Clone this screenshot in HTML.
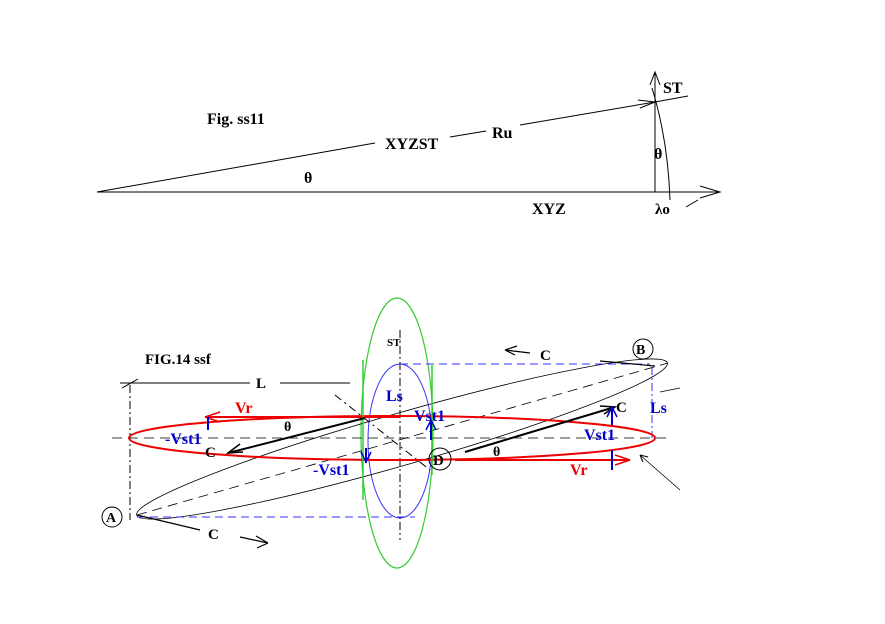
<!DOCTYPE html>
<html><head><meta charset="utf-8"><style>
html,body{margin:0;padding:0;background:#fff;}
svg{display:block;}
text{font-family:"Liberation Serif",serif;font-weight:bold;}
</style></head><body>
<svg width="885" height="624" viewBox="0 0 885 624" xmlns="http://www.w3.org/2000/svg">
<!-- Top figure -->
<g stroke="#000" stroke-width="1" fill="none">
<line x1="97" y1="192" x2="720" y2="192"/>
<path d="M700,186 L720,192 L700,198"/>
<line x1="97" y1="192" x2="375" y2="143"/>
<line x1="450" y1="137" x2="486" y2="131"/>
<line x1="520" y1="125" x2="655" y2="102"/>
<path d="M638,100 L655,102 L640,108"/>
<line x1="655" y1="102" x2="688" y2="96"/>
<line x1="655" y1="192" x2="655" y2="72"/>
<path d="M650,85 L655,72 L660,85"/>
<path d="M652,88 Q668,140 670,200"/>
<line x1="686" y1="207" x2="698" y2="200"/>
</g>
<text x="207" y="124" font-size="16">Fig.  ss11</text>
<text x="385" y="149" font-size="16">XYZST</text>
<text x="492" y="138" font-size="16" font-weight="normal">Ru</text>
<text x="304" y="183" font-size="16">θ</text>
<text x="532" y="214" font-size="16">XYZ</text>
<text x="663" y="93" font-size="16">ST</text>
<text x="654" y="159" font-size="16">θ</text>
<text x="655" y="214" font-size="15">λo</text>

<!-- Bottom figure -->
<g fill="none" stroke-width="1">
<ellipse cx="397" cy="433" rx="36" ry="135" stroke="#3c3" stroke-width="1.2"/>
<ellipse cx="400" cy="441" rx="32" ry="77" stroke="#33f"/>
<ellipse cx="402" cy="439" rx="276" ry="26" transform="rotate(-16 402 439)" stroke="#000" stroke-width="0.8"/>
<line x1="137" y1="515" x2="668" y2="363" stroke="#000" stroke-dasharray="10,6" stroke-width="0.8"/>
<line x1="112" y1="438" x2="672" y2="438" stroke="#000" stroke-dasharray="10,6" stroke-width="0.8"/>
<line x1="400" y1="330" x2="400" y2="540" stroke="#000" stroke-dasharray="8,3,2,3"/>
<line x1="130" y1="385" x2="130" y2="520" stroke="#000" stroke-dasharray="8,3,2,3"/>
<line x1="652" y1="367" x2="652" y2="438" stroke="#33f" stroke-dasharray="8,3,2,3"/>
<line x1="400" y1="364" x2="650" y2="364" stroke="#33f" stroke-dasharray="8,5"/>
<line x1="137" y1="517" x2="415" y2="517" stroke="#33f" stroke-dasharray="8,5"/>
<line x1="335" y1="395" x2="430" y2="470" stroke="#000" stroke-dasharray="8,4,2,4"/>
<line x1="120" y1="383" x2="250" y2="383" stroke="#000"/>
<line x1="280" y1="383" x2="350" y2="383" stroke="#000"/>
<line x1="122" y1="388" x2="138" y2="379" stroke="#000"/>
<ellipse cx="392" cy="438" rx="263" ry="22" stroke="#e00" stroke-width="2"/>
<line x1="205" y1="417" x2="400" y2="417" stroke="#e00" stroke-width="2"/>
<line x1="205" y1="417" x2="220" y2="412" stroke="#e00" stroke-width="1.5"/>
<line x1="205" y1="417" x2="220" y2="422" stroke="#e00" stroke-width="1.5"/>
<line x1="455" y1="460" x2="630" y2="460" stroke="#e00" stroke-width="2"/>
<line x1="630" y1="460" x2="615" y2="455" stroke="#e00" stroke-width="1.5"/>
<line x1="630" y1="460" x2="615" y2="465" stroke="#e00" stroke-width="1.5"/>
<line x1="363" y1="360" x2="363" y2="500" stroke="#3c3" stroke-width="1.5"/>
<line x1="432" y1="365" x2="432" y2="475" stroke="#3c3" stroke-width="1.5"/>
<line x1="365" y1="418" x2="228" y2="453" stroke="#000" stroke-width="2"/>
<path d="M240,444 L228,453 L243,452" stroke="#000" stroke-width="1.5"/>
<line x1="465" y1="452" x2="615" y2="407" stroke="#000" stroke-width="2"/>
<path d="M600,406 L615,407 L604,414" stroke="#000" stroke-width="1.5"/>
<line x1="208" y1="417" x2="208" y2="430" stroke="#00c" stroke-width="2"/>
<line x1="366" y1="448" x2="366" y2="463" stroke="#00c" stroke-width="2"/>
<path d="M361,452 L366,462 L371,452" stroke="#00c" stroke-width="1.5"/>
<line x1="431" y1="440" x2="431" y2="420" stroke="#00c" stroke-width="2"/>
<path d="M426,430 L431,420 L436,430" stroke="#00c" stroke-width="1.5"/>
<line x1="612" y1="425" x2="612" y2="407" stroke="#00c" stroke-width="2"/>
<path d="M607,417 L612,407 L617,417" stroke="#00c" stroke-width="1.5"/>
<line x1="612" y1="450" x2="612" y2="470" stroke="#00c" stroke-width="2"/>
<line x1="600" y1="361" x2="655" y2="366" stroke="#000" stroke-width="1.2"/>
<path d="M505,350 L530,353 M505,350 L517,346 M505,350 L515,355" stroke="#000" stroke-width="1.2"/>
<line x1="137" y1="515" x2="200" y2="530" stroke="#000" stroke-width="1.2"/>
<path d="M240,537 L268,543 M268,543 L256,536 M268,543 L257,548" stroke="#000" stroke-width="1.2"/>
<line x1="640" y1="455" x2="680" y2="490" stroke="#000" stroke-width="0.8"/>
<path d="M640,455 L648,457 M640,455 L643,462" stroke="#000"/>
<line x1="660" y1="392" x2="680" y2="388" stroke="#000" stroke-width="0.8"/>
<circle cx="643" cy="349" r="10" stroke="#000"/>
<circle cx="112" cy="517" r="10" stroke="#000"/>
<circle cx="440" cy="459" r="11" stroke="#000"/>
</g>
<text x="145" y="364" font-size="15">FIG.14 ssf</text>
<text x="387" y="346" font-size="11">ST</text>
<text x="256" y="388" font-size="15">L</text>
<text x="235" y="413" font-size="16" fill="#e00">Vr</text>
<text x="570" y="475" font-size="16" fill="#e00">Vr</text>
<text x="386" y="401" font-size="16" fill="#00c">Ls</text>
<text x="650" y="413" font-size="16" fill="#00c">Ls</text>
<text x="414" y="421" font-size="16" fill="#00c">Vst1</text>
<text x="584" y="440" font-size="16" fill="#00c">Vst1</text>
<text x="165" y="444" font-size="16" fill="#00c">-Vst1</text>
<text x="313" y="475" font-size="16" fill="#00c">-Vst1</text>
<text x="284" y="431" font-size="14">θ</text>
<text x="493" y="456" font-size="14">θ</text>
<text x="205" y="457" font-size="15">C</text>
<text x="616" y="412" font-size="15">C</text>
<text x="540" y="360" font-size="15">C</text>
<text x="208" y="539" font-size="15">C</text>
<text x="636" y="354" font-size="14">B</text>
<text x="106" y="522" font-size="14">A</text>
<text x="433" y="465" font-size="15">D</text>
</svg>
</body></html>
